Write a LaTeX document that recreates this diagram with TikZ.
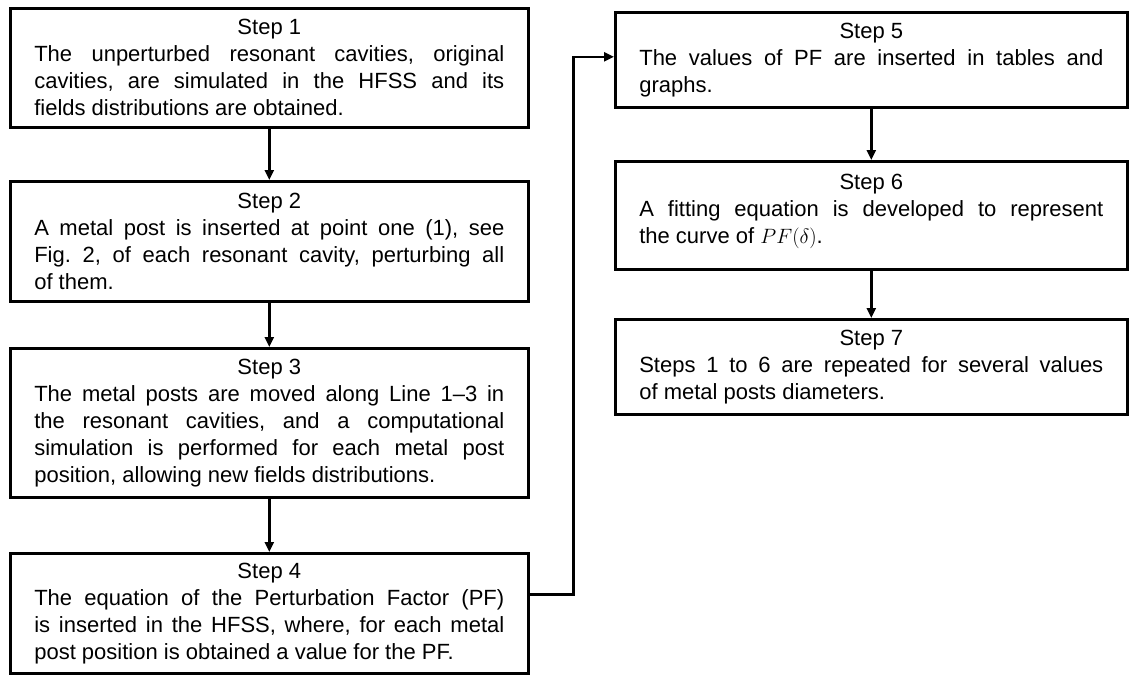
\documentclass[tikz,border=0pt]{standalone}
\usepackage{fontspec}
\setmainfont{Liberation Sans}
\usetikzlibrary{arrows.meta}
\frenchspacing
\tikzset{
  stepbox/.style={draw, line width=2.6pt, anchor=north west, inner xsep=24pt, inner ysep=2pt,
    align=justify, font=\fontsize{22}{27}\selectfont},
  leftbox/.style={stepbox, text width=470pt},
  rightbox/.style={stepbox, text width=464pt},
  conn/.style={line width=2.4pt, -{Triangle[length=10pt,width=9pt]}}
}
\begin{document}
\begin{tikzpicture}[x=1pt,y=1pt]
\tolerance=10000 \hyphenpenalty=10000 \frenchspacing
\useasboundingbox (0,0) rectangle (1129,-675);
\node[leftbox, minimum height=119pt] (s1) at (9,-7) {{\centering Step 1\par}\noindent The unperturbed resonant cavities, original\linebreak cavities, are simulated in the HFSS and its\linebreak fields distributions are obtained.};
\node[leftbox, minimum height=120pt] (s2) at (9,-180) {{\centering Step 2\par}\noindent A metal post is inserted at point one (1), see\linebreak Fig.\ 2, of each resonant cavity, perturbing all\linebreak of them.};
\node[leftbox, minimum height=149pt] (s3) at (9,-347) {{\centering Step 3\par}\noindent The metal posts are moved along Line 1--3 in\linebreak the resonant cavities, and a computational\linebreak simulation is performed for each metal post\linebreak position, allowing new fields distributions.};
\node[leftbox, minimum height=120pt] (s4) at (9,-552) {{\centering Step 4\par}\noindent The equation of the Perturbation Factor (PF)\linebreak is inserted in the HFSS, where, for each metal\linebreak post position is obtained a value for the PF.};
\node[rightbox, minimum height=95pt] (s5) at (614,-11) {{\centering Step 5\par}\noindent The values of PF are inserted in tables and\linebreak graphs.};
\node[rightbox, minimum height=108pt] (s6) at (614,-160) {{\centering Step 6\par}\noindent A fitting equation is developed to represent\linebreak the curve of $PF(\delta)$.\rule[-12pt]{0pt}{0pt}};
\node[rightbox, minimum height=95pt] (s7) at (614,-318) {{\centering Step 7\par}\noindent Steps 1 to 6 are repeated for several values\linebreak of metal posts diameters.};
\draw[conn] (s1.south) -- (s2.north);
\draw[conn] (s2.south) -- (s3.north);
\draw[conn] (s3.south) -- (s4.north);
\draw[conn] (s5.south) -- (s6.north);
\draw[conn] (s6.south) -- (s7.north);
\draw[conn] ([yshift=19pt]s4.east) -- ++(44,0) |- ([yshift=3pt]s5.west);
\end{tikzpicture}
\end{document}
